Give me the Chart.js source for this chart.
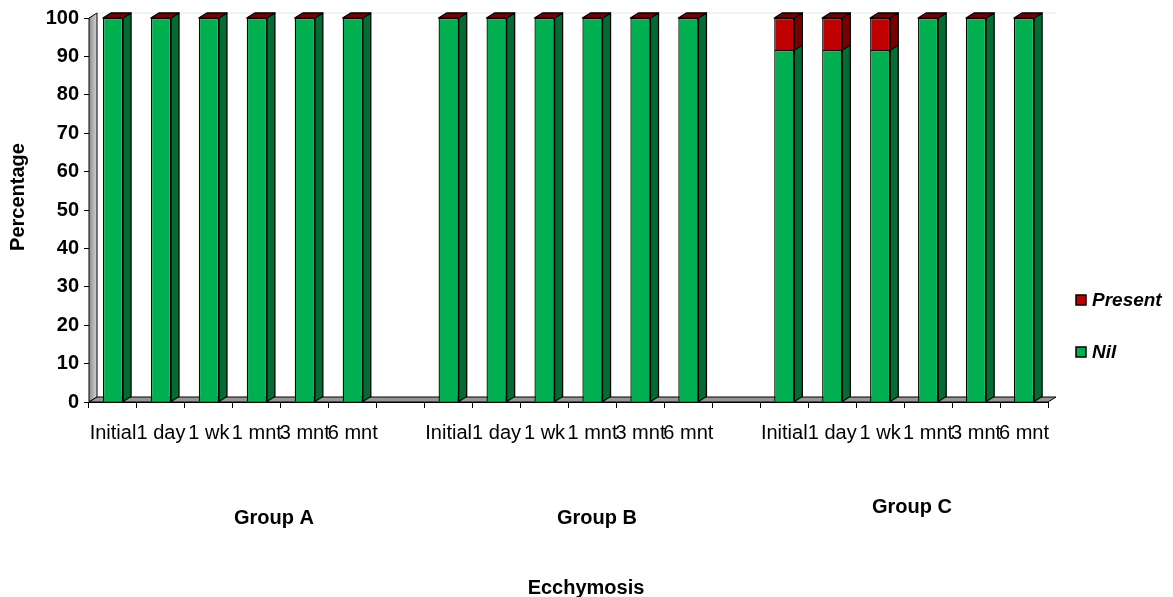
<!DOCTYPE html>
<html>
<head>
<meta charset="utf-8">
<title>Ecchymosis</title>
<script src="https://cdn.jsdelivr.net/npm/chart.js@4.4.1/dist/chart.umd.min.js"></script>
<style>
  html, body { margin: 0; padding: 0; background: #ffffff; }
</style>
</head>
<body>
<canvas id="ecchymosisChart" width="1173" height="597"></canvas>
<script>
// Datos: porcentaje de pacientes con equimosis por grupo y control
const timepoints = ['Initial', '1 day', '1 wk', '1 mnt', '3 mnt', '6 mnt'];
const groupNames = ['Group A', 'Group B', 'Group C'];

const nilA = [100, 100, 100, 100, 100, 100];
const nilB = [100, 100, 100, 100, 100, 100];
const nilC = [91.67, 91.67, 91.67, 100, 100, 100];

const presentA = [0, 0, 0, 0, 0, 0];
const presentB = [0, 0, 0, 0, 0, 0];
const presentC = [8.33, 8.33, 8.33, 0, 0, 0];

const yTicks = [0, 10, 20, 30, 40, 50, 60, 70, 80, 90, 100];

(function () {
    const FONT = '"Liberation Sans", Arial, Helvetica, sans-serif';

    // Un hueco vacío entre grupos
    function withGaps(parts, gap) {
        const out = [];
        parts.forEach((p, i) => {
            out.push(...p);
            if (i < parts.length - 1) out.push(gap);
        });
        return out;
    }

    const labels = withGaps([timepoints, timepoints, timepoints], '');
    const nilData = withGaps([nilA, nilB, nilC], null);
    const presentData = withGaps([presentA, presentB, presentC], null);

    const colors = {
        nil: { front: '#00b050', side: '#006e32' },
        present: { front: '#c00000', side: '#7a0000' }
    };

    // profundidad del efecto 3D
    const dx = 8;
    const dy = 5;

    function poly(ctx, pts, fill) {
        ctx.beginPath();
        ctx.moveTo(pts[0][0], pts[0][1]);
        for (let i = 1; i < pts.length; i++) ctx.lineTo(pts[i][0], pts[i][1]);
        ctx.closePath();
        ctx.fillStyle = fill;
        ctx.fill();
        ctx.stroke();
    }

    const box3d = {
        id: 'box3d',
        beforeDatasetsDraw(chart) {
            const { ctx, chartArea: a } = chart;
            ctx.save();
            // borde superior de la pared del fondo
            ctx.strokeStyle = '#e4e4e4';
            ctx.lineWidth = 1;
            ctx.beginPath();
            ctx.moveTo(a.left + dx, a.top - dy);
            ctx.lineTo(a.right + dx, a.top - dy);
            ctx.stroke();

            ctx.strokeStyle = '#000';
            ctx.lineWidth = 1;
            ctx.lineJoin = 'round';
            // pared izquierda
            const wall = ctx.createLinearGradient(a.left, 0, a.left + dx, 0);
            wall.addColorStop(0, '#8c8c8c');
            wall.addColorStop(1, '#d4d4d4');
            poly(ctx, [[a.left, a.top], [a.left + dx, a.top - dy], [a.left + dx, a.bottom - dy], [a.left, a.bottom]], wall);
            // suelo
            poly(ctx, [[a.left, a.bottom], [a.right, a.bottom], [a.right + dx, a.bottom - dy], [a.left + dx, a.bottom - dy]], '#969696');
            ctx.restore();
        },
        afterDatasetsDraw(chart) {
            const { ctx } = chart;
            const sets = chart.data.datasets;
            ctx.save();
            ctx.strokeStyle = '#000';
            ctx.lineWidth = 1.3;
            ctx.lineJoin = 'round';

            sets.forEach((ds, di) => {
                const meta = chart.getDatasetMeta(di);
                meta.data.forEach((bar, j) => {
                    if (ds.data[j] === null) return;
                    const { x, y, base, width } = bar.getProps(['x', 'y', 'base', 'width'], true);
                    const r = x + width / 2;
                    const l = x - width / 2;
                    if (Math.abs(base - y) > 0.5) {
                        poly(ctx, [[r, y], [r + dx, y - dy], [r + dx, base - dy], [r, base]], ds.sideColor);
                    }
                    // tapa superior de la pila
                    if (di === sets.length - 1) {
                        poly(ctx, [[l, y], [l + dx, y - dy], [r + dx, y - dy], [r, y]], ds.sideColor);
                    }
                });
            });
            ctx.restore();
        },
        afterDraw(chart) {
            const { ctx } = chart;
            ctx.save();
            ctx.fillStyle = '#000';
            ctx.textAlign = 'center';
            ctx.textBaseline = 'middle';

            // título del eje Y
            ctx.font = 'bold 20px ' + FONT;
            ctx.save();
            ctx.translate(18, 197);
            ctx.rotate(-Math.PI / 2);
            ctx.fillText('Percentage', 0, 0);
            ctx.restore();

            // nombres de grupo
            const groupPos = [[274, 518], [597, 518], [912, 507]];
            groupNames.forEach((g, i) => ctx.fillText(g, groupPos[i][0], groupPos[i][1]));

            // título del eje X
            ctx.fillText('Ecchymosis', 586, 588);

            // leyenda
            const legendRows = [
                { ds: chart.data.datasets[1], y: 300 },
                { ds: chart.data.datasets[0], y: 352 }
            ];
            ctx.textAlign = 'left';
            ctx.font = 'italic bold 19px ' + FONT;
            ctx.lineWidth = 1.5;
            ctx.strokeStyle = '#000';
            legendRows.forEach(row => {
                ctx.fillStyle = row.ds.backgroundColor;
                ctx.fillRect(1076, row.y - 5, 10, 10);
                ctx.strokeRect(1076, row.y - 5, 10, 10);
                ctx.fillStyle = '#000';
                ctx.fillText(row.ds.label, 1092, row.y + 1);
            });
            ctx.restore();
        }
    };

    const ctx = document.getElementById('ecchymosisChart').getContext('2d');

    new Chart(ctx, {
        type: 'bar',
        data: {
            labels: labels,
            datasets: [
                {
                    label: 'Nil',
                    data: nilData,
                    backgroundColor: colors.nil.front,
                    sideColor: colors.nil.side,
                    borderColor: '#000',
                    borderWidth: 1.3,
                    barPercentage: 0.42,
                    categoryPercentage: 1
                },
                {
                    label: 'Present',
                    data: presentData,
                    backgroundColor: colors.present.front,
                    sideColor: colors.present.side,
                    borderColor: '#000',
                    borderWidth: 1.3,
                    barPercentage: 0.42,
                    categoryPercentage: 1
                }
            ]
        },
        options: {
            responsive: false,
            animation: false,
            layout: { padding: { top: 18, right: 125, left: 0, bottom: 0 } },
            plugins: {
                legend: { display: false },
                tooltip: { enabled: false }
            },
            scales: {
                x: {
                    stacked: true,
                    offset: true,
                    border: { display: true, color: '#000', width: 1 },
                    grid: {
                        display: true,
                        offset: true,
                        drawOnChartArea: false,
                        color: '#000',
                        tickLength: 6
                    },
                    ticks: {
                        autoSkip: false,
                        maxRotation: 0,
                        minRotation: 0,
                        padding: 13,
                        color: '#000',
                        font: { family: FONT, size: 20 }
                    },
                    afterFit(scale) { scale.height = 195; }
                },
                y: {
                    stacked: true,
                    min: 0,
                    max: 100,
                    border: { display: true, color: '#000', width: 1 },
                    grid: {
                        display: true,
                        drawOnChartArea: false,
                        color: '#000',
                        tickLength: 5
                    },
                    afterBuildTicks(scale) {
                        scale.ticks = yTicks.map(v => ({ value: v }));
                    },
                    ticks: {
                        padding: 5,
                        color: '#000',
                        font: { family: FONT, size: 20, weight: 'bold' }
                    },
                    afterFit(scale) { scale.width = 89; }
                }
            }
        },
        plugins: [box3d]
    });
})();
</script>
</body>
</html>
